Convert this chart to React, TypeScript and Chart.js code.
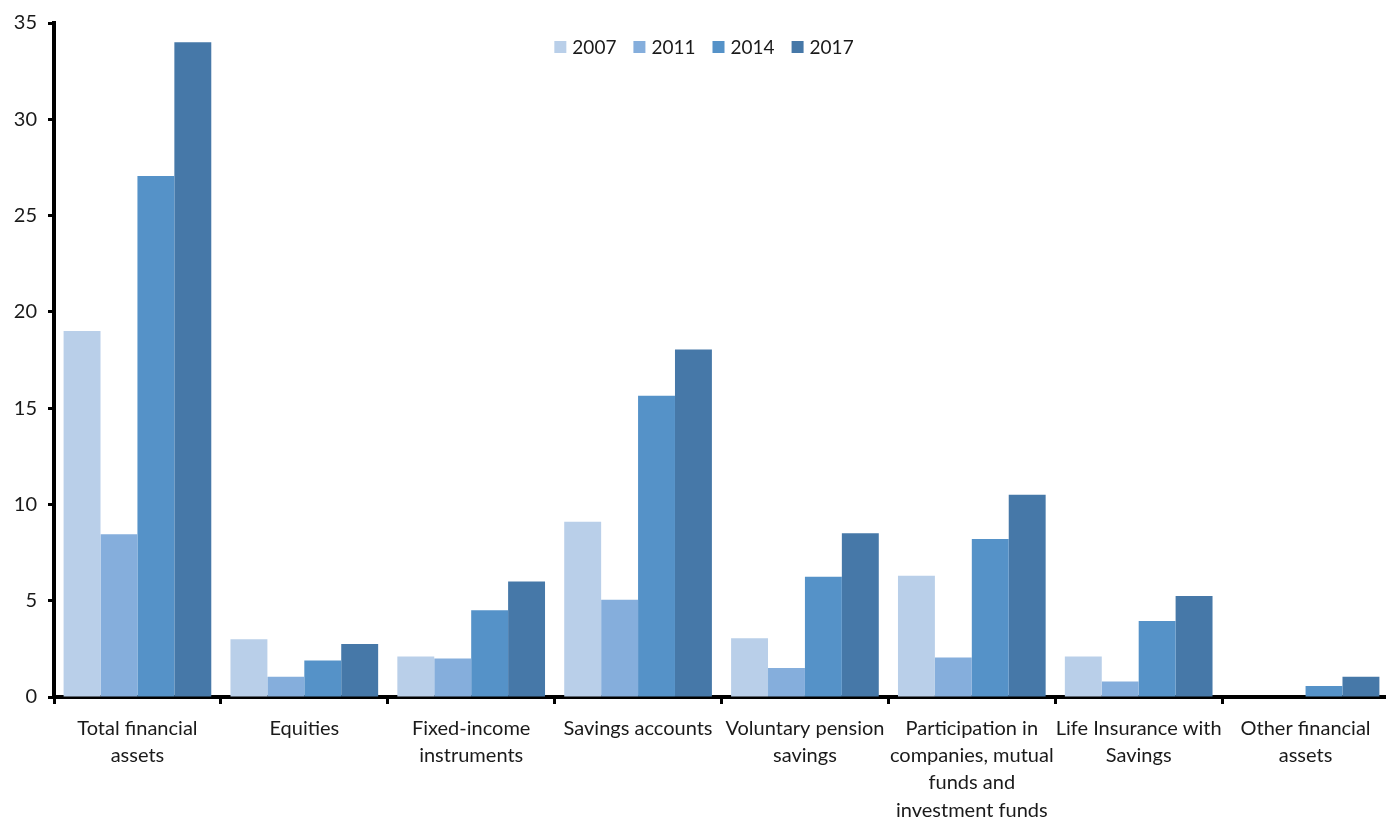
import React, { useEffect, useRef } from "react";
import { Chart, registerables } from "chart.js";

Chart.register(...registerables);

const categories: (string | string[])[] = [
  ["Total financial", "assets"],
  ["Equities"],
  ["Fixed-income", "instruments"],
  ["Savings accounts"],
  ["Voluntary pension", "savings"],
  ["Participation in", "companies, mutual", "funds and", "investment funds"],
  ["Life Insurance with", "Savings"],
  ["Other financial", "assets"],
];

const seriesLabels = ["2007", "2011", "2014", "2017"];
const values2007 = [19.0, 3.0, 2.1, 9.1, 3.05, 6.3, 2.1, 0];
const values2011 = [8.45, 1.05, 2.0, 5.05, 1.5, 2.05, 0.8, 0];
const values2014 = [27.05, 1.9, 4.5, 15.65, 6.25, 8.2, 3.95, 0.57];
const values2017 = [34.0, 2.75, 6.0, 18.05, 8.5, 10.5, 5.25, 1.05];
const seriesColors = ["#B9CFE9", "#85AEDC", "#5592C8", "#4678A8"];

const yMin = 0;
const yMax = 35;
const yStep = 5;

const FONT = "Lato, 'Open Sans', sans-serif";
const TEXT = "#1a1a1a";

const legendPlugin = {
  id: "innerLegend",
  afterDraw(chart: any) {
    const ctx = chart.ctx;
    const ds = chart.data.datasets;
    ctx.save();
    ctx.font = `19px ${FONT}`;
    ctx.textBaseline = "middle";
    const box = 12;
    const gap = 6;
    const spacing = 17;
    const widths = ds.map((d: any) => box + gap + ctx.measureText(d.label).width);
    const total = widths.reduce((a: number, b: number) => a + b, 0) + spacing * (ds.length - 1);
    let x = 704 - total / 2;
    const y = 47;
    ds.forEach((d: any, i: number) => {
      ctx.fillStyle = d.backgroundColor;
      ctx.fillRect(x, y - box / 2, box, box);
      ctx.fillStyle = TEXT;
      ctx.textAlign = "left";
      ctx.fillText(d.label, x + box + gap, y + 1);
      x += widths[i] + spacing;
    });
    ctx.restore();
  },
};

export default function App() {
  const ref = useRef<HTMLCanvasElement | null>(null);

  useEffect(() => {
    if (!ref.current) return;
    const seriesValues = [values2007, values2011, values2014, values2017];
    const chart = new Chart(ref.current, {
      type: "bar",
      data: {
        labels: categories,
        datasets: seriesLabels.map((label, i) => ({
          label,
          data: seriesValues[i],
          backgroundColor: seriesColors[i],
          borderWidth: 0,
          barPercentage: 1,
          categoryPercentage: 0.885,
        })),
      },
      options: {
        animation: false,
        responsive: true,
        maintainAspectRatio: false,
        layout: { padding: { top: 22, right: 0, left: 0, bottom: 0 } },
        plugins: {
          legend: { display: false },
          tooltip: { enabled: false },
          title: { display: false },
        },
        scales: {
          x: {
            grid: {
              display: true,
              drawOnChartArea: false,
              drawTicks: true,
              tickLength: 7,
              tickWidth: 3,
              tickColor: "#000",
              offset: true,
            },
            border: { display: true, color: "#000", width: 4 },
            ticks: {
              color: TEXT,
              font: { family: FONT, size: 20, lineHeight: 1.36 },
              padding: 11,
              maxRotation: 0,
              autoSkip: false,
            },
            afterFit(scale: any) {
              scale.height = 126;
            },
          },
          y: {
            min: yMin,
            max: yMax,
            ticks: {
              stepSize: yStep,
              color: TEXT,
              font: { family: FONT, size: 20 },
              padding: 11,
            },
            grid: {
              display: true,
              drawOnChartArea: false,
              drawTicks: true,
              tickLength: 6,
              tickWidth: 3,
              tickColor: "#000",
            },
            border: { display: true, color: "#000", width: 4 },
            afterFit(scale: any) {
              scale.width = 54;
            },
          },
        },
      },
      plugins: [legendPlugin],
    });
    return () => chart.destroy();
  }, []);

  return (
    <div style={{ position: "fixed", left: 0, top: 0, width: 1386, height: 823, overflow: "hidden", background: "#fff" }}>
      <div style={{ position: "absolute", left: 0, top: 0, width: 1389, height: 823 }}>
        <canvas ref={ref} />
      </div>
    </div>
  );
}
